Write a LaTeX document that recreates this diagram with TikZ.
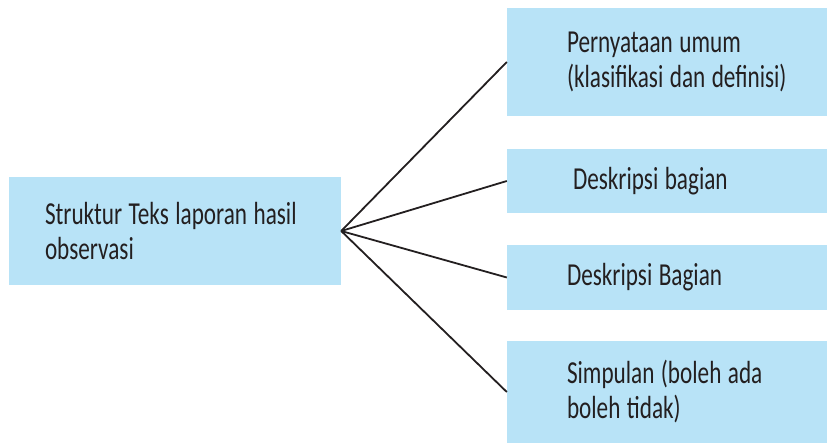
\documentclass[tikz,border=0pt]{standalone}
\usepackage{fontspec}
\setmainfont[FakeStretch=0.725]{Carlito}
\usetikzlibrary{positioning}
\definecolor{isikotak}{HTML}{B8E3F7}
\definecolor{tinta}{HTML}{231F20}
\hyphenpenalty=10000
\newcommand\hurufkotak{\fontsize{32}{35}\selectfont\spaceskip=6.5pt plus 2pt minus 1pt\relax}
\tikzset{
	kotak/.style={fill=isikotak, text=tinta, align=left, inner sep=0pt,
		execute at begin node=\hurufkotak},
	kiri/.style={kotak, minimum width=332pt, minimum height=108pt, text width=260pt},
	kanan/.style={kotak, minimum width=360pt, text width=240pt},
	garis/.style={draw=tinta, line width=1.8pt}
}

\begin{document}
\begin{tikzpicture}[x=1pt, y=-1pt, font=\fontsize{32}{35}\selectfont]
	\useasboundingbox (0,0) rectangle (827,443);
	\begin{scope}
		\node[kiri] (struktur) at (175, 231) {Struktur Teks laporan hasil\\observasi};

		\node[kanan, minimum height=108pt] (umum) at (687, 62) {Pernyataan umum\\(klasifikasi dan definisi)};
		\node[kanan, minimum height=64pt] (bagian1) at (687, 181) {\hspace*{6pt}Deskripsi bagian};
		\node[kanan, minimum height=65pt] (bagian2) at (687, 277.5) {Deskripsi Bagian};
		\node[kanan, minimum height=102pt] (simpulan) at (687, 392) {Simpulan (boleh ada\\boleh tidak)};

		\draw[garis] (struktur.east) -- (umum.west);
		\draw[garis] (struktur.east) -- (bagian1.west);
		\draw[garis] (struktur.east) -- (bagian2.west);
		\draw[garis] (struktur.east) -- (simpulan.west);
	\end{scope}
\end{tikzpicture}
\end{document}
